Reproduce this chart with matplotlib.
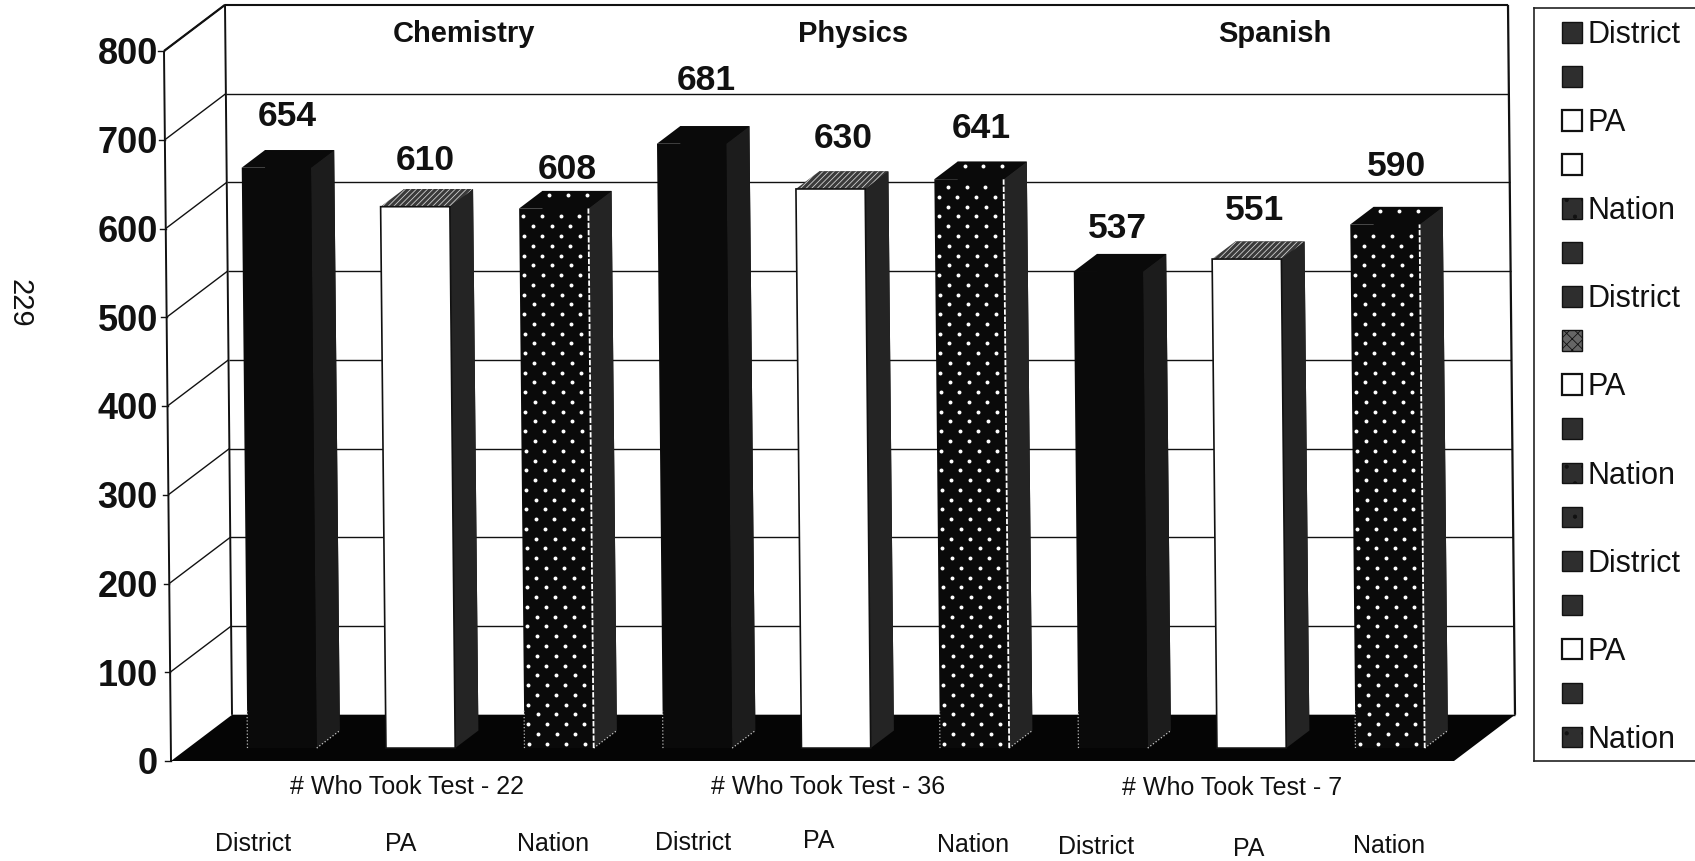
"""Scanned 3D-look bar chart: test scores for three subjects, district vs PA vs nation."""
import numpy as np
import matplotlib
matplotlib.use("Agg")
import matplotlib.pyplot as plt
from matplotlib.lines import Line2D
from matplotlib.patches import Polygon, Patch

plt.rcParams["font.family"] = ["Liberation Sans", "DejaVu Sans"]
plt.rcParams["hatch.linewidth"] = 0.6

W, H = 1695, 861

categories = ["District", "PA", "Nation"] * 3
values = [654, 610, 608, 681, 630, 641, 537, 551, 590]
subjects = ["Chemistry", "Physics", "Spanish"]
takers = ["# Who Took Test - 22", "# Who Took Test - 36", "# Who Took Test - 7"]
yticks = [0, 100, 200, 300, 400, 500, 600, 700, 800]
legend_labels = ["District", "", "PA", "", "Nation", "", "District", "", "PA", "", "Nation", "",
                 "District", "", "PA", "", "Nation"]

# where the text sits on the page, in pixels of the reference
value_xy = [(287, 116), (425, 160), (567, 170), (706, 80), (843, 138), (981, 129), (1117, 228), (1254, 210), (1396, 167)]
subject_xy = [(464, 34), (853, 34), (1275, 34)]
takers_xy = [(407, 787), (828, 787), (1232, 788)]
cat_xy = [(253, 844), (401, 844), (553, 844), (693, 843), (819, 841), (973, 845), (1096, 847), (1249, 849), (1389, 846)]

fig = plt.figure(figsize=(W / 100, H / 100), dpi=100)
x_left, x_right, y_bot, y_top = 171, 1454, 761, 51
ax = fig.add_axes([x_left / W, 1 - y_bot / H, (x_right - x_left) / W, (y_bot - y_top) / H])
cat_px = 138.5
ax.set_xlim((x_left - 265) / cat_px, (x_right - 265) / cat_px)
ax.set_ylim(0, 800)
for s in ax.spines.values():
    s.set_visible(False)
ax.set_xticks([])
ax.set_yticks(yticks)
ax.tick_params(axis="y", length=0, pad=9.5)
for t in ax.get_yticklabels():
    t.set_fontsize(26)
    t.set_fontweight("bold")
    t.set_color("#111111")

# oblique projection: depth 0 is the front edge of the floor, depth 1 the back wall
DX, DY = 61 / cat_px, 52.0
SKEW = -7 / cat_px / 800  # the scan leans a little


def pt(x, v, d=0.0):
    return (x + d * DX + v * SKEW, v + d * DY)


def face(pts, **kw):
    kw.setdefault("lw", 0)
    p = Polygon([pt(*q) for q in pts], closed=True, clip_on=False, **kw)
    ax.add_patch(p)


def line(a, b, color="#111111", lw=1.2, **kw):
    (x0, y0), (x1, y1) = pt(*a), pt(*b)
    ax.plot([x0, x1], [y0, y1], color=color, lw=lw, clip_on=False, solid_capstyle="butt", **kw)


xa, xb = ax.get_xlim()

# walls + grid
line((xa, 0, 0), (xa, 800, 0), lw=1.4, zorder=2)
line((xa, 800, 0), (xa, 800, 1), lw=1.6, zorder=2)
line((xa, 0, 1), (xa, 800, 1), lw=1.4, zorder=2)
line((xb, 0, 1), (xb, 800, 1), lw=1.6, zorder=2)
for v in yticks:
    line((xa, v, 1), (xb, v, 1), lw=1.5 if v == 800 else 1.0, zorder=1)
    if v > 0:
        line((xa, v, 0), (xa, v, 1), lw=1.0, zorder=1)
    x0, y0 = pt(xa, v, 0)
    ax.plot([x0 - 0.04, x0], [y0, y0], color="#111111", lw=1.0, clip_on=False)

# floor
face([(xa, 0, 0), (xa, 0, 1), (xb, 0, 1), (xb, 0, 0)], fc="#050505", zorder=3)

# bars
bw = 0.25
d0, d1 = 0.28, 0.66
for i, val in enumerate(values):
    kind = categories[i]
    l, r = i - bw, i + bw
    front = "white" if kind == "PA" else "#0a0a0a"
    side = "#1c1c1c" if kind == "District" else "#242424"
    z = 4 + i * 0.01
    face([(l, 0, d1), (r, 0, d1), (r, val, d1), (l, val, d1)], fc="#0a0a0a", zorder=z)
    # side
    face([(r, 0, d0), (r, 0, d1), (r, val, d1), (r, val, d0)], fc=side, zorder=z)
    # top
    if kind == "PA":
        face([(l, val, d0), (r, val, d0), (r, val, d1), (l, val, d1)], fc="#3a3a3a", ec="#cfcfcf",
             hatch="//////", zorder=z)
    else:
        face([(l, val, d0), (r, val, d0), (r, val, d1), (l, val, d1)], fc="#0a0a0a", zorder=z)
    # front
    face([(l, 0, d0), (r, 0, d0), (r, val, d0), (l, val, d0)], fc=front, ec="#111111",
         lw=1.2 if kind == "PA" else 0, zorder=z + 0.001)
    if kind != "PA":
        # faint white dashes the printer left around the foot of the dark bars
        line((l, 0, d0), (l, 42, d0), color="#bbbbbb", lw=0.9, ls=":", zorder=z + 0.002)
        line((r, 0, d0), (r, 0, d1), color="#cccccc", lw=0.9, ls=":", zorder=z + 0.002)
    if kind == "Nation":
        line((r, 0, d0), (r, val, d0), color="white", lw=1.3, ls=(0, (3, 1)), zorder=z + 0.002)
        # dot screen on the front face, and a row on the top
        step_x, step_v = 18.7 / cat_px, 11.0
        px_, py_ = [], []
        for row, v in enumerate(np.arange(5.0, val - 6, step_v)):
            for x in np.arange(l + 0.03 + (row % 2) * step_x / 2, r - 0.02, step_x):
                q = pt(x, v, d0)
                px_.append(q[0])
                py_.append(q[1])
        for x in np.arange(l + 0.09, r - 0.03, step_x):
            q = pt(x, val, (d0 + d1) / 2 + 0.1)
            px_.append(q[0])
            py_.append(q[1])
        ax.scatter(px_, py_, s=8, color="white", lw=0, zorder=z + 0.003, clip_on=False)


def ptext(x, y, s, **kw):
    fig.text(x / W, 1 - y / H, s, ha="center", va="center", color="#111111", **kw)


for (x, y), val in zip(value_xy, values):
    ptext(x, y, str(val), fontsize=25.5, fontweight="bold")
for (x, y), s in zip(subject_xy, subjects):
    ptext(x, y, s, fontsize=21, fontweight="bold")
for (x, y), s in zip(takers_xy, takers):
    ptext(x, y, s, fontsize=18)
for (x, y), s in zip(cat_xy, categories):
    ptext(x, y, s, fontsize=18)
ptext(19, 303, "229", fontsize=21, rotation=-90)

# legend: two-entries-per-series mess from the original spreadsheet
swatch = {
    "dark": dict(fc="#2e2e2e", ec="#111111", lw=1.0),
    "white": dict(fc="white", ec="#111111", lw=1.6),
    "nation": dict(fc="#2e2e2e", ec="#111111", lw=1.0, hatch="."),
    "speck": dict(fc="#666666", ec="#111111", lw=1.0, hatch="xxx"),
}
swatch_kinds = ["dark", "dark", "white", "white", "nation", "dark", "dark", "speck", "white", "dark",
                "nation", "nation", "dark", "dark", "white", "dark", "nation"]
handles = [Patch(**swatch[k]) for k in swatch_kinds]
fig.legend(handles, legend_labels, loc="upper left", bbox_to_anchor=(1562 / W, 1 - 20 / H),
           bbox_transform=fig.transFigure, borderaxespad=0, borderpad=0, fontsize=22, frameon=False,
           labelspacing=0.46, handlelength=0.66, handleheight=0.66, handletextpad=0.17,
           labelcolor="#111111")
# box runs off the right edge of the page
for xs, ys in [((1534, 1534), (8, 761)), ((1534, W), (8, 8)), ((1534, W), (761, 761))]:
    fig.add_artist(Line2D([x / W for x in xs], [1 - y / H for y in ys], color="#222222", lw=1.2))

fig.savefig("out.png", dpi=100)
print("wrote out.png")
